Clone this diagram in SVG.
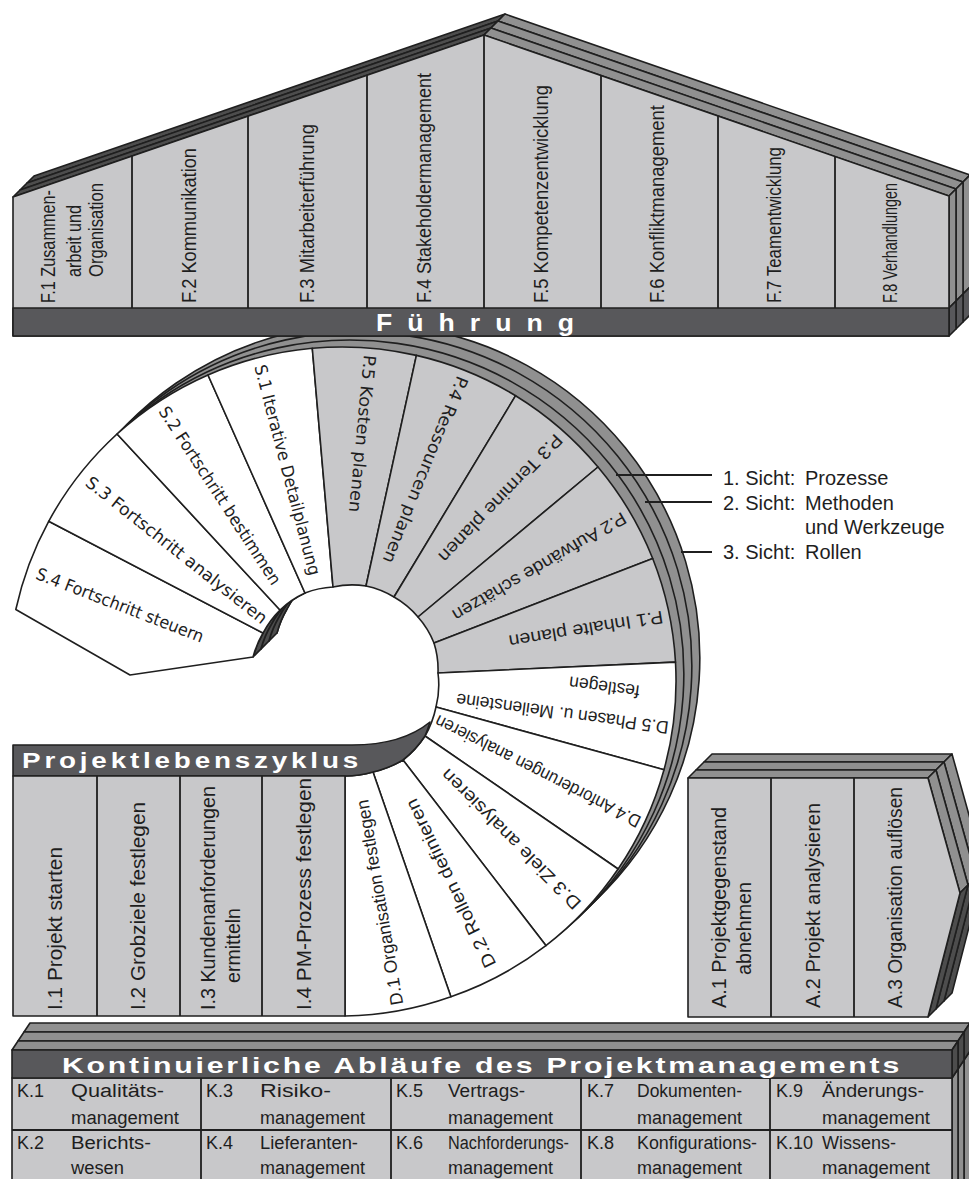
<svg xmlns="http://www.w3.org/2000/svg" xmlns:xlink="http://www.w3.org/1999/xlink" width="969" height="1179" viewBox="0 0 969 1179">
<style>
.fr{stroke:#1f1f1f;stroke-width:1.6;stroke-linejoin:round}
.ln{fill:none;stroke:#1f1f1f;stroke-width:1.8}
.lt{fill:#c8c8ca}
.dk{fill:#58585b}
.lay{fill:#909090}
.sh{fill:#4d4d4d}
.wh{fill:#ffffff}
.t{font-family:"Liberation Sans",Arial,sans-serif;fill:#1e1e1e}
.tv{font-family:"DejaVu Sans",Verdana,sans-serif;fill:#1e1e1e}
.hd{font-family:"Liberation Sans",Arial,sans-serif;font-weight:bold;fill:#ffffff}
.f{font-size:21px}
.big{font-size:21px}
.sp{font-size:18px}
.sv{font-size:17px}
.k{font-size:18px}
.lb{font-size:20px}
</style>
<defs>
  <!-- outline of the spiral band (outer circle, inner hole, cut end of S.4) -->
  <path id="band" d="M15.8,609.5 A334,334 0 1 1 345,1016 L345,776 A103,103 0 0 0 373,772 A103,103 0 0 0 403,760 A100,100 0 0 0 425,736 A96,96 0 0 0 436,707 A90,90 0 0 0 438,673 A88,88 0 0 0 434,643 A88,88 0 0 0 418,617 A88,88 0 0 0 394,597 A88,88 0 0 0 366,586 A88,88 0 0 0 333,587 A89,89 0 0 0 305,593 A92,92 0 0 0 280,610 A94,94 0 0 0 263,633 A97,97 0 0 0 253,657 L130,675 Z"/>
  <path id="innerS" d="M253,657 A97,97 0 0 1 263,633 A94,94 0 0 1 280,610 A92,92 0 0 1 305,593"/>
</defs>
<rect width="969" height="1179" fill="#ffffff"/>

<!-- ===== spiral: the three views stacked behind the front band ===== -->
<g id="spiral-layers">
  <use xlink:href="#band" href="#band" transform="translate(24,-24)" class="fr lay"/>
  <use xlink:href="#band" href="#band" transform="translate(16,-16)" class="fr lay"/>
  <use xlink:href="#band" href="#band" transform="translate(8,-8)" class="fr lay"/>
  <path class="fr sh" d="M253,657 A97,97 0 0 1 263,633 A94,94 0 0 1 280,610 A92,92 0 0 1 305,593 L329,569 A92,92 0 0 0 304,586 A94,94 0 0 0 287,609 A97,97 0 0 0 277,633 Z"/>
  <use xlink:href="#innerS" href="#innerS" transform="translate(8,-8)" class="ln"/>
  <use xlink:href="#innerS" href="#innerS" transform="translate(16,-16)" class="ln"/>
</g>

<!-- ===== spiral sectors ===== -->
<g id="S4"><path class="fr wh" d="M15.8,609.5 A334,334 0 0 1 48.7,521.3 L263,633 A97,97 0 0 0 253,657 L130,675 Z"/>
<text class="tv sv" transform="translate(37,573) rotate(21.1)" dy="0.35em" textLength="178" lengthAdjust="spacingAndGlyphs">S.4 Fortschritt steuern</text></g>
<g id="S3"><path class="fr wh" d="M48.7,521.3 A334,334 0 0 1 117.1,434 L280,610 A94,94 0 0 0 263,633 Z"/>
<text class="tv sv" transform="translate(88,480) rotate(38.3)" dy="0.35em" textLength="226" lengthAdjust="spacingAndGlyphs">S.3 Fortschritt analysieren</text></g>
<g id="S2"><path class="fr wh" d="M117.1,434 A334,334 0 0 1 208,375 L305,593 A92,92 0 0 0 280,610 Z"/>
<text class="tv sv" transform="translate(163,408) rotate(56.9)" dy="0.35em" textLength="209" lengthAdjust="spacingAndGlyphs">S.2 Fortschritt bestimmen</text></g>
<g id="S1"><path class="fr wh" d="M208,375 A334,334 0 0 1 312.3,348.3 L333,587 A89,89 0 0 0 305,593 Z"/>
<text class="tv sv" transform="translate(260,365) rotate(75.3)" dy="0.35em" textLength="217" lengthAdjust="spacingAndGlyphs">S.1 Iterative Detailplanung</text></g>
<g id="P5"><path class="fr lt" d="M312.3,348.3 A334,334 0 0 1 416.4,355.4 L366,586 A88,88 0 0 0 333,587 Z"/>
<text class="tv sv" transform="translate(370,355) rotate(95.5)" dy="0.35em" textLength="158" lengthAdjust="spacingAndGlyphs">P.5 Kosten planen</text></g>
<g id="P4"><path class="fr lt" d="M416.4,355.4 A334,334 0 0 1 515.6,395.7 L394,597 A88,88 0 0 0 366,586 Z"/>
<text class="tv sv" transform="translate(463,377) rotate(112)" dy="0.35em" textLength="200" lengthAdjust="spacingAndGlyphs">P.4 Ressourcen planen</text></g>
<g id="P3"><path class="fr lt" d="M515.6,395.7 A334,334 0 0 1 598,467 L418,617 A88,88 0 0 0 394,597 Z"/>
<text class="t sp" transform="translate(559.6,437) rotate(133.8)" dy="0.35em" textLength="170" lengthAdjust="spacingAndGlyphs">P.3 Termine planen</text></g>
<g id="P2"><path class="fr lt" d="M598,467 A334,334 0 0 1 652.7,558.5 L434,643 A88,88 0 0 0 418,617 Z"/>
<text class="t sp" transform="translate(625,517) rotate(149.7)" dy="0.35em" textLength="198" lengthAdjust="spacingAndGlyphs">P.2 Aufwände schätzen</text></g>
<g id="P1"><path class="fr lt" d="M652.7,558.5 A334,334 0 0 1 675.5,662.1 L438,673 A88,88 0 0 0 434,643 Z"/>
<text class="t sp" transform="translate(663,617) rotate(170.8)" dy="0.35em" textLength="156" lengthAdjust="spacingAndGlyphs">P.1 Inhalte planen</text></g>
<g id="D5"><path class="fr wh" d="M675.5,662.1 A334,334 0 0 1 664,769.7 L436,707 A90,90 0 0 0 438,673 Z"/>
<text class="t sp" transform="translate(668.5,728) rotate(-172.4)" dy="0.35em" textLength="214" lengthAdjust="spacingAndGlyphs">D.5 Phasen u. Meilensteine</text>
<text class="t sp" transform="translate(639.5,692) rotate(-172.4)" dy="0.35em" textLength="71" lengthAdjust="spacingAndGlyphs">festlegen</text></g>
<g id="D4"><path class="fr wh" d="M664,769.7 A334,334 0 0 1 618.1,869 L425,736 A96,96 0 0 0 436,707 Z"/>
<text class="t sp" transform="translate(639.5,823) rotate(-153.2)" dy="0.35em" textLength="228" lengthAdjust="spacingAndGlyphs">D.4 Anforderungen analysieren</text></g>
<g id="D3"><path class="fr wh" d="M618.1,869 A334,334 0 0 1 545.9,945.6 L403,760 A100,100 0 0 0 425,736 Z"/>
<text class="t sp" transform="translate(577.8,906.7) rotate(-134.8)" dy="0.35em" textLength="190" lengthAdjust="spacingAndGlyphs">D.3 Ziele analysieren</text></g>
<g id="D2"><path class="fr wh" d="M545.9,945.6 A334,334 0 0 1 450.9,996.7 L373,772 A103,103 0 0 0 403,760 Z"/>
<text class="t sp" transform="translate(490.7,966.7) rotate(-115.8)" dy="0.35em" textLength="185" lengthAdjust="spacingAndGlyphs">D.2 Rollen definieren</text></g>
<g id="D1"><path class="fr wh" d="M450.9,996.7 A334,334 0 0 1 345,1016 L345,776 A103,103 0 0 0 373,772 Z"/>
<text class="t sp" transform="translate(397,1005) rotate(-99.7)" dy="0.35em" textLength="208" lengthAdjust="spacingAndGlyphs">D.1 Organisation festlegen</text></g>

<!-- ===== legend of the three views ===== -->
<g id="sichten">
  <path class="ln" d="M616,475 H712 M645,502 H712 M681,552 H712"/>
  <text class="t lb" x="723" y="485">1. Sicht:</text><text class="t lb" x="805" y="485">Prozesse</text>
  <text class="t lb" x="723" y="510">2. Sicht:</text><text class="t lb" x="805" y="510">Methoden</text>
  <text class="t lb" x="805" y="534">und Werkzeuge</text>
  <text class="t lb" x="723" y="559">3. Sicht:</text><text class="t lb" x="805" y="559">Rollen</text>
</g>

<!-- ===== Führung (roof) ===== -->
<g id="fuehrung">
  <g class="fr sh">
    <path d="M27,183 L498,21 L505,14 L34,176 Z"/>
    <path d="M20,190 L491,28 L498,21 L27,183 Z"/>
    <path d="M13,197 L484,35 L491,28 L20,190 Z"/>
  </g>
  <g class="fr lay">
    <path d="M498,21 L963,182 L970,175 L505,14 Z"/>
    <path d="M491,28 L956,189 L963,182 L498,21 Z"/>
    <path d="M484,35 L949,196 L956,189 L491,28 Z"/>
    <path d="M963,182 V294 L970,287 V175 Z"/>
    <path d="M956,189 V301 L963,294 V182 Z"/>
    <path d="M949,196 V308 L956,301 V189 Z"/>
  </g>
  <g class="fr dk">
    <path d="M963,294 V322 L970,315 V287 Z"/>
    <path d="M956,301 V329 L963,322 V294 Z"/>
    <path d="M949,308 V336 L956,329 V301 Z"/>
  </g>
  <path class="fr lt" d="M13,336 L13,197 L484,35 L949,196 L949,336 Z"/>
  <path class="ln" d="M132,156 V308 M248,116 V308 M367,75 V308 M484,35 V308 M601,75.5 V308 M718,116 V308 M835,156.5 V308"/>
  <rect class="fr dk" x="13" y="308" width="936" height="28"/>
  <text class="hd" x="376" y="331" font-size="23" letter-spacing="13" textLength="213" lengthAdjust="spacingAndGlyphs">Führung</text>
  <g id="F1"><text class="t f" transform="translate(55,303) rotate(-90)" textLength="113" lengthAdjust="spacingAndGlyphs">F.1 Zusammen-</text>
  <text class="t f" transform="translate(81,277) rotate(-90)" textLength="72" lengthAdjust="spacingAndGlyphs">arbeit und</text>
  <text class="t f" transform="translate(103,277) rotate(-90)" textLength="94" lengthAdjust="spacingAndGlyphs">Organisation</text></g>
  <text id="F2" class="t f" transform="translate(196,303) rotate(-90)" textLength="155" lengthAdjust="spacingAndGlyphs">F.2 Kommunikation</text>
  <text id="F3" class="t f" transform="translate(314,303) rotate(-90)" textLength="179" lengthAdjust="spacingAndGlyphs">F.3 Mitarbeiterführung</text>
  <text id="F4" class="t f" transform="translate(431,303) rotate(-90)" textLength="230" lengthAdjust="spacingAndGlyphs">F.4 Stakeholdermanagement</text>
  <text id="F5" class="t f" transform="translate(548,303) rotate(-90)" textLength="218" lengthAdjust="spacingAndGlyphs">F.5 Kompetenzentwicklung</text>
  <text id="F6" class="t f" transform="translate(664,303) rotate(-90)" textLength="198" lengthAdjust="spacingAndGlyphs">F.6 Konfliktmanagement</text>
  <text id="F7" class="t f" transform="translate(781,303) rotate(-90)" textLength="156" lengthAdjust="spacingAndGlyphs">F.7 Teamentwicklung</text>
  <text id="F8" class="t f" transform="translate(897,303) rotate(-90)" textLength="120" lengthAdjust="spacingAndGlyphs">F.8 Verhandlungen</text>
</g>

<!-- ===== Projektlebenszyklus (initialisation) ===== -->
<g id="projektlebenszyklus">
  <path class="fr dk" d="M13,745 H352 Q402,745 430,722 A100,100 0 0 1 425,736 A100,100 0 0 1 403,760 A103,103 0 0 1 373,772 A103,103 0 0 1 345,776 H13 Z"/>
  <text class="hd" x="22" y="768" font-size="22" letter-spacing="3" textLength="340" lengthAdjust="spacingAndGlyphs">Projektlebenszyklus</text>
  <rect class="fr lt" x="13" y="776" width="332" height="240"/>
  <path class="ln" d="M97,776 V1016 M180,776 V1016 M262,776 V1016"/>
  <text id="I1" class="t big" transform="translate(62,1010) rotate(-90)" textLength="163" lengthAdjust="spacingAndGlyphs">I.1 Projekt starten</text>
  <text id="I2" class="t big" transform="translate(145,1010) rotate(-90)" textLength="208" lengthAdjust="spacingAndGlyphs">I.2 Grobziele festlegen</text>
  <g id="I3"><text class="t big" transform="translate(215,1010) rotate(-90)" textLength="224" lengthAdjust="spacingAndGlyphs">I.3 Kundenanforderungen</text>
  <text class="t big" transform="translate(240,983) rotate(-90)" textLength="75" lengthAdjust="spacingAndGlyphs">ermitteln</text></g>
  <text id="I4" class="t big" transform="translate(311,1010) rotate(-90)" textLength="232" lengthAdjust="spacingAndGlyphs">I.4 PM-Prozess festlegen</text>
</g>

<!-- ===== Abschluss ===== -->
<g id="abschluss">
  <g class="fr lay">
    <path d="M704,762 H944 L952,754 H712 Z"/>
    <path d="M696,770 H936 L944,762 H704 Z"/>
    <path d="M688,778 H928 L936,770 H696 Z"/>
    <path d="M944,762 L976,877 L984,869 L952,754 Z"/>
    <path d="M936,770 L968,885 L976,877 L944,762 Z"/>
    <path d="M928,778 L960,893 L968,885 L936,770 Z"/>
  </g>
  <g class="fr sh">
    <path d="M976,877 L944,1001 L952,993 L984,869 Z"/>
    <path d="M968,885 L936,1009 L944,1001 L976,877 Z"/>
    <path d="M960,893 L928,1017 L936,1009 L968,885 Z"/>
  </g>
  <path class="fr lt" d="M688,778 H928 L960,893 L928,1017 H688 Z"/>
  <path class="ln" d="M771,778 V1017 M854,778 V1017"/>
  <g id="A1"><text class="t big" transform="translate(726,1008) rotate(-90)" textLength="201" lengthAdjust="spacingAndGlyphs">A.1 Projektgegenstand</text>
  <text class="t big" transform="translate(751,975) rotate(-90)" textLength="93" lengthAdjust="spacingAndGlyphs">abnehmen</text></g>
  <text id="A2" class="t big" transform="translate(820,1008) rotate(-90)" textLength="205" lengthAdjust="spacingAndGlyphs">A.2 Projekt analysieren</text>
  <text id="A3" class="t big" transform="translate(902,1008) rotate(-90)" textLength="221" lengthAdjust="spacingAndGlyphs">A.3 Organisation auflösen</text>
</g>

<!-- ===== Kontinuierliche Abläufe ===== -->
<g id="kontinuierlich">
  <g class="fr lay">
    <path d="M24,1032 H964 L970,1023 H30 Z"/>
    <path d="M18,1041 H958 L964,1032 H24 Z"/>
    <path d="M12,1050 H952 L958,1041 H18 Z"/>
    <path d="M964,1060 V1200 H970 V1051 Z"/>
    <path d="M958,1069 V1200 H964 V1060 Z"/>
    <path d="M952,1078 V1200 H958 V1069 Z"/>
  </g>
  <g class="fr sh">
    <path d="M964,1032 V1060 L970,1051 V1023 Z"/>
    <path d="M958,1041 V1069 L964,1060 V1032 Z"/>
    <path d="M952,1050 V1078 L958,1069 V1041 Z"/>
  </g>
  <rect class="fr lt" x="12" y="1078" width="940" height="120"/>
  <rect class="fr dk" x="12" y="1050" width="940" height="28"/>
  <text class="hd" x="62" y="1073" font-size="22" letter-spacing="2" textLength="840" lengthAdjust="spacingAndGlyphs">Kontinuierliche Abläufe des Projektmanagements</text>
  <path class="ln" d="M12,1130 H952 M201,1078 V1190 M391,1078 V1190 M581,1078 V1190 M770,1078 V1190"/>
  <g id="K1"><text class="t k" x="17" y="1097">K.1</text><text class="t k" x="71" y="1097" textLength="93" lengthAdjust="spacingAndGlyphs">Qualitäts-</text><text class="t k" x="71" y="1124" textLength="108" lengthAdjust="spacingAndGlyphs">management</text></g>
  <g id="K2"><text class="t k" x="17" y="1149">K.2</text><text class="t k" x="71" y="1149" textLength="80" lengthAdjust="spacingAndGlyphs">Berichts-</text><text class="t k" x="71" y="1174" textLength="53" lengthAdjust="spacingAndGlyphs">wesen</text></g>
  <g id="K3"><text class="t k" x="206" y="1097">K.3</text><text class="t k" x="260" y="1097" textLength="71" lengthAdjust="spacingAndGlyphs">Risiko-</text><text class="t k" x="260" y="1124" textLength="105" lengthAdjust="spacingAndGlyphs">management</text></g>
  <g id="K4"><text class="t k" x="206" y="1149">K.4</text><text class="t k" x="260" y="1149" textLength="98" lengthAdjust="spacingAndGlyphs">Lieferanten-</text><text class="t k" x="260" y="1174" textLength="105" lengthAdjust="spacingAndGlyphs">management</text></g>
  <g id="K5"><text class="t k" x="396" y="1097">K.5</text><text class="t k" x="448" y="1097" textLength="77" lengthAdjust="spacingAndGlyphs">Vertrags-</text><text class="t k" x="448" y="1124" textLength="105" lengthAdjust="spacingAndGlyphs">management</text></g>
  <g id="K6"><text class="t k" x="396" y="1149">K.6</text><text class="t k" x="448" y="1149" textLength="121" lengthAdjust="spacingAndGlyphs">Nachforderungs-</text><text class="t k" x="448" y="1174" textLength="105" lengthAdjust="spacingAndGlyphs">management</text></g>
  <g id="K7"><text class="t k" x="587" y="1097">K.7</text><text class="t k" x="637" y="1097" textLength="105" lengthAdjust="spacingAndGlyphs">Dokumenten-</text><text class="t k" x="637" y="1124" textLength="105" lengthAdjust="spacingAndGlyphs">management</text></g>
  <g id="K8"><text class="t k" x="587" y="1149">K.8</text><text class="t k" x="637" y="1149" textLength="120" lengthAdjust="spacingAndGlyphs">Konfigurations-</text><text class="t k" x="637" y="1174" textLength="105" lengthAdjust="spacingAndGlyphs">management</text></g>
  <g id="K9"><text class="t k" x="776" y="1097">K.9</text><text class="t k" x="822" y="1097" textLength="102" lengthAdjust="spacingAndGlyphs">Änderungs-</text><text class="t k" x="822" y="1124" textLength="108" lengthAdjust="spacingAndGlyphs">management</text></g>
  <g id="K10"><text class="t k" x="776" y="1149">K.10</text><text class="t k" x="822" y="1149" textLength="74" lengthAdjust="spacingAndGlyphs">Wissens-</text><text class="t k" x="822" y="1174" textLength="108" lengthAdjust="spacingAndGlyphs">management</text></g>
</g>
</svg>
